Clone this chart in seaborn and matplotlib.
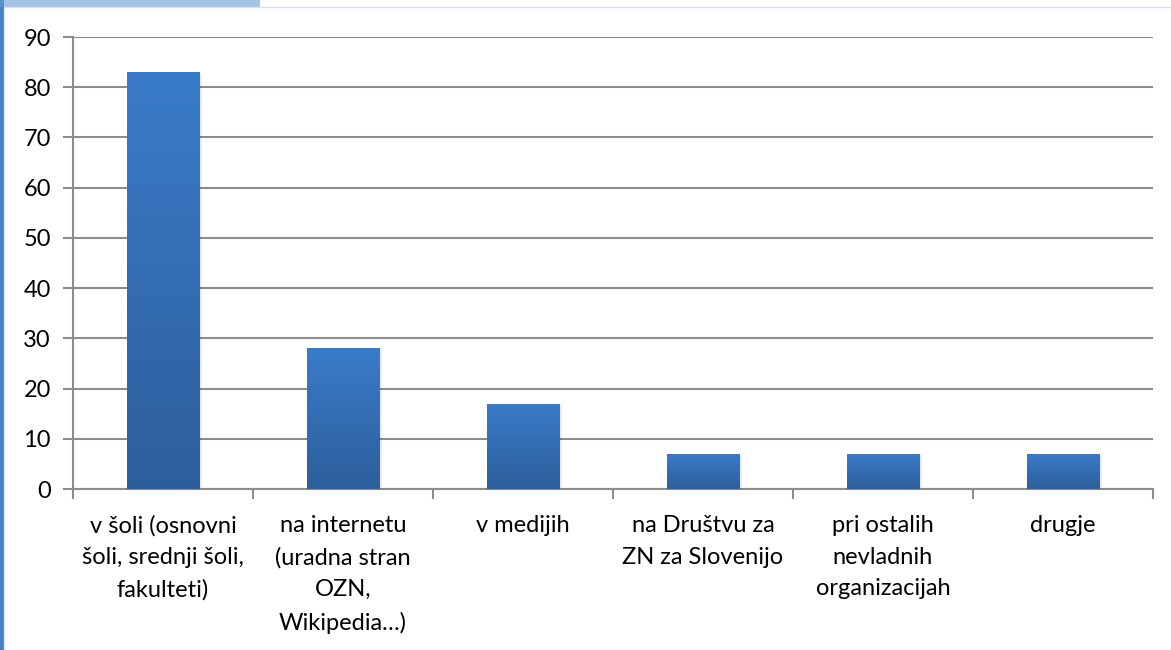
import numpy as np
import pandas as pd
import matplotlib
matplotlib.use("Agg")
import matplotlib.pyplot as plt
import seaborn as sns
from matplotlib.patches import Rectangle
from matplotlib.colors import LinearSegmentedColormap

categories = [
    "v šoli (osnovni\nšoli, srednji šoli,\nfakulteti)",
    "na internetu\n(uradna stran\nOZN,\nWikipedia…)",
    "v medijih",
    "na Društvu za\nZN za Slovenijo",
    "pri ostalih\nnevladnih\norganizacijah",
    "drugje",
]
values = [83, 28, 17, 7, 7, 7]
yticks = [0, 10, 20, 30, 40, 50, 60, 70, 80, 90]

sns.set_theme(style="white")
plt.rcParams["font.family"] = ["Lato", "DejaVu Sans"]

W, H = 1171, 650
fig = plt.figure(figsize=(W / 100, H / 100), dpi=100)
fig.patch.set_facecolor("white")

# decorative background strip on the left / top-left
fig.patches.append(Rectangle((0, 0), 4 / W, 1, transform=fig.transFigure,
                             facecolor="#4a7fc4", edgecolor="none", zorder=-3))
fig.patches.append(Rectangle((0, 1 - 7 / H), 260 / W, 7 / H, transform=fig.transFigure,
                             facecolor="#6a9bd6", edgecolor="none", zorder=-3, alpha=0.6))
# chart area border
fig.patches.append(Rectangle((4 / W, 0), 1 - 4 / W, 1 - 7 / H, transform=fig.transFigure,
                             facecolor="white", edgecolor="#d8e2ef", linewidth=1, zorder=-2))

ax = fig.add_axes([73 / W, 1 - 489 / H, (1153 - 73) / W, (489 - 37) / H])
ax.set_facecolor("none")

df = pd.DataFrame({"cat": categories, "val": values})
sns.barplot(data=df, x="cat", y="val", ax=ax, color="#3a7bc8", width=0.405,
            saturation=1, zorder=3)

# gradient fill on bars
cmap = LinearSegmentedColormap.from_list("bar", ["#2d5e9c", "#3a7cc9"])
grad = np.linspace(0, 1, 256).reshape(-1, 1)
for p in list(ax.patches):
    x0, y0 = p.get_x(), p.get_y()
    w, h = p.get_width(), p.get_height()
    sh = Rectangle((x0 + 0.012, y0), w, h - 0.3, facecolor="#000000", alpha=0.08,
                   edgecolor="none", zorder=2.5)
    ax.add_patch(sh)
    im = ax.imshow(grad, cmap=cmap, origin="lower", aspect="auto",
                   extent=[x0, x0 + w, y0, y0 + h], zorder=3.5)
    im.set_clip_path(p)
    p.set_edgecolor("none")

ax.set_xlim(-0.5, len(categories) - 0.5)
ax.set_ylim(0, 90)
ax.set_yticks(yticks)
ax.set_xlabel("")
ax.set_ylabel("")

ax.grid(axis="y", color="#8c8c8c", linewidth=1.5, zorder=1)
ax.grid(axis="x", visible=False)
for s in ["top", "right"]:
    ax.spines[s].set_visible(False)
ax.spines["left"].set_color("#8c8c8c")
ax.spines["bottom"].set_color("#8c8c8c")
ax.spines["left"].set_linewidth(1.5)
ax.spines["bottom"].set_linewidth(1.5)

ax.tick_params(axis="y", which="major", left=True, length=7, width=1.5, color="#8c8c8c",
               labelsize=17, labelcolor="black", pad=9)
ax.set_xticks(np.arange(-0.5, len(categories), 1.0), minor=True)
ax.tick_params(axis="x", which="minor", bottom=True, length=7, width=1.5, color="#8c8c8c")
ax.tick_params(axis="x", which="major", bottom=False, length=0, labelsize=17,
               labelcolor="black", pad=19)
for lbl in ax.get_xticklabels():
    lbl.set_linespacing(1.62)
    lbl.set_ha("center")
    lbl.set_va("top")

fig.savefig("out.png", dpi=100)
